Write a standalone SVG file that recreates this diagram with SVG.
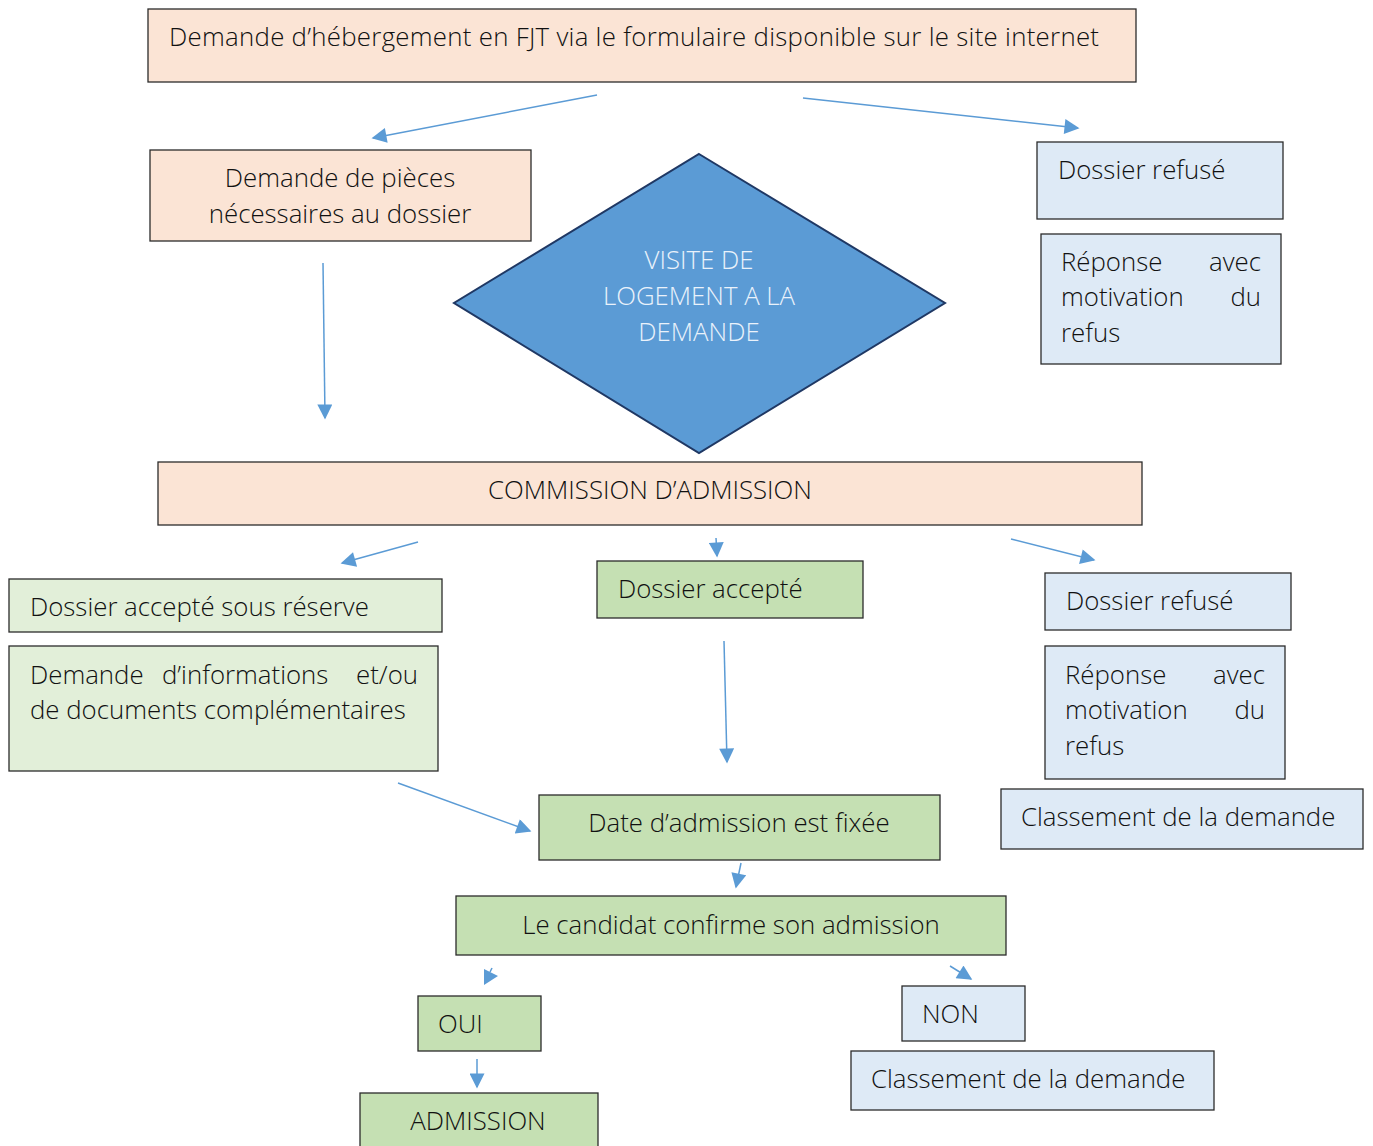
<svg xmlns="http://www.w3.org/2000/svg" width="1373" height="1146" viewBox="0 0 1373 1146">
<defs>
<style>
.t{font-family:"Open Sans","Noto Sans","Liberation Sans",sans-serif;font-size:25.8px;fill:#111;font-weight:300}
.c{text-anchor:middle}
.e{text-anchor:end}
.peach{fill:#FBE4D5;stroke:#2b2b2b;stroke-width:1.3}
.blue{fill:#DEEAF6;stroke:#2b2b2b;stroke-width:1.3}
.lg{fill:#E2EFD9;stroke:#2b2b2b;stroke-width:1.3}
.g{fill:#C5E0B3;stroke:#2b2b2b;stroke-width:1.3}
.a{stroke:#5B9BD5;stroke-width:1.5;fill:none;marker-end:url(#ah)}
.w{fill:#EAF2FB}
</style>
<marker id="ah" viewBox="0 0 10 10" refX="9" refY="5" markerWidth="16" markerHeight="15" markerUnits="userSpaceOnUse" orient="auto">
<path d="M0,0 L10,5 L0,10 z" fill="#5B9BD5"/>
</marker>
</defs>
<rect width="1373" height="1146" fill="#ffffff"/>

<g id="connectors">
<line class="a" x1="597" y1="95" x2="373" y2="138"/>
<line class="a" x1="803" y1="98" x2="1078" y2="128"/>
<line class="a" x1="323" y1="263" x2="325" y2="418"/>
<line class="a" x1="418" y1="542" x2="342" y2="563"/>
<line class="a" x1="716" y1="538" x2="717" y2="556"/>
<line class="a" x1="1011" y1="539" x2="1094" y2="560"/>
<line class="a" x1="724" y1="641" x2="727" y2="762"/>
<line class="a" x1="398" y1="783" x2="530" y2="831"/>
<line class="a" x1="741" y1="863" x2="736" y2="887"/>
<line x1="492" y1="968" x2="490" y2="972" stroke="#5B9BD5" stroke-width="1.5"/>
<path d="M484,969 L498,976 L484,985 z" fill="#5B9BD5"/>
<line class="a" x1="950" y1="966" x2="971" y2="979"/>
<line class="a" x1="477" y1="1059" x2="477" y2="1087"/>
</g>

<g id="n-demande">
<rect class="peach" x="148" y="9" width="988" height="73"/>
<text class="t" x="169" y="46" textLength="930">Demande d’hébergement en FJT via le formulaire disponible sur le site internet</text>
</g>

<g id="n-pieces">
<rect class="peach" x="150" y="150" width="381" height="91"/>
<text class="t c" x="340" y="187">Demande de pièces</text>
<text class="t c" x="340" y="223">nécessaires au dossier</text>
</g>

<g id="n-visite">
<polygon points="699,154 945,303 699,453 454,303" fill="#5B9BD5" stroke="#1F3864" stroke-width="2"/>
<text class="t c w" x="699" y="269">VISITE DE</text>
<text class="t c w" x="699" y="305">LOGEMENT A LA</text>
<text class="t c w" x="699" y="341">DEMANDE</text>
</g>

<g id="n-refuse1">
<rect class="blue" x="1037" y="142" width="246" height="77"/>
<text class="t" x="1058" y="179">Dossier refusé</text>
</g>

<g id="n-reponse1">
<rect class="blue" x="1041" y="234" width="240" height="130"/>
<text class="t" x="1061" y="271">Réponse</text>
<text class="t e" x="1261" y="271">avec</text>
<text class="t" x="1061" y="306">motivation</text>
<text class="t e" x="1261" y="306">du</text>
<text class="t" x="1061" y="342">refus</text>
</g>

<g id="n-commission">
<rect class="peach" x="158" y="462" width="984" height="63"/>
<text class="t c" x="650" y="499">COMMISSION D’ADMISSION</text>
</g>

<g id="n-reserve">
<rect class="lg" x="9" y="579" width="433" height="53"/>
<text class="t" x="30" y="616">Dossier accepté sous réserve</text>
</g>

<g id="n-infos">
<rect class="lg" x="9" y="646" width="429" height="125"/>
<text class="t" x="30" y="684">Demande</text>
<text class="t" x="162" y="684">d’informations</text>
<text class="t e" x="418" y="684">et/ou</text>
<text class="t" x="30" y="719">de documents complémentaires</text>
</g>

<g id="n-accepte">
<rect class="g" x="597" y="561" width="266" height="57"/>
<text class="t" x="618" y="598">Dossier accepté</text>
</g>

<g id="n-refuse2">
<rect class="blue" x="1045" y="573" width="246" height="57"/>
<text class="t" x="1066" y="610">Dossier refusé</text>
</g>

<g id="n-reponse2">
<rect class="blue" x="1045" y="646" width="240" height="133"/>
<text class="t" x="1065" y="684">Réponse</text>
<text class="t e" x="1265" y="684">avec</text>
<text class="t" x="1065" y="719">motivation</text>
<text class="t e" x="1265" y="719">du</text>
<text class="t" x="1065" y="755">refus</text>
</g>

<g id="n-classement1">
<rect class="blue" x="1001" y="789" width="362" height="60"/>
<text class="t" x="1021" y="826">Classement de la demande</text>
</g>

<g id="n-date">
<rect class="g" x="539" y="795" width="401" height="65"/>
<text class="t c" x="739" y="832">Date d’admission est fixée</text>
</g>

<g id="n-candidat">
<rect class="g" x="456" y="896" width="550" height="59"/>
<text class="t c" x="731" y="934">Le candidat confirme son admission</text>
</g>

<g id="n-oui">
<rect class="g" x="418" y="996" width="123" height="55"/>
<text class="t" x="438" y="1033">OUI</text>
</g>

<g id="n-admission">
<rect class="g" x="360" y="1093" width="238" height="60"/>
<text class="t c" x="478" y="1130">ADMISSION</text>
</g>

<g id="n-non">
<rect class="blue" x="902" y="986" width="123" height="55"/>
<text class="t" x="922" y="1023">NON</text>
</g>

<g id="n-classement2">
<rect class="blue" x="851" y="1051" width="363" height="59"/>
<text class="t" x="871" y="1088">Classement de la demande</text>
</g>
</svg>
